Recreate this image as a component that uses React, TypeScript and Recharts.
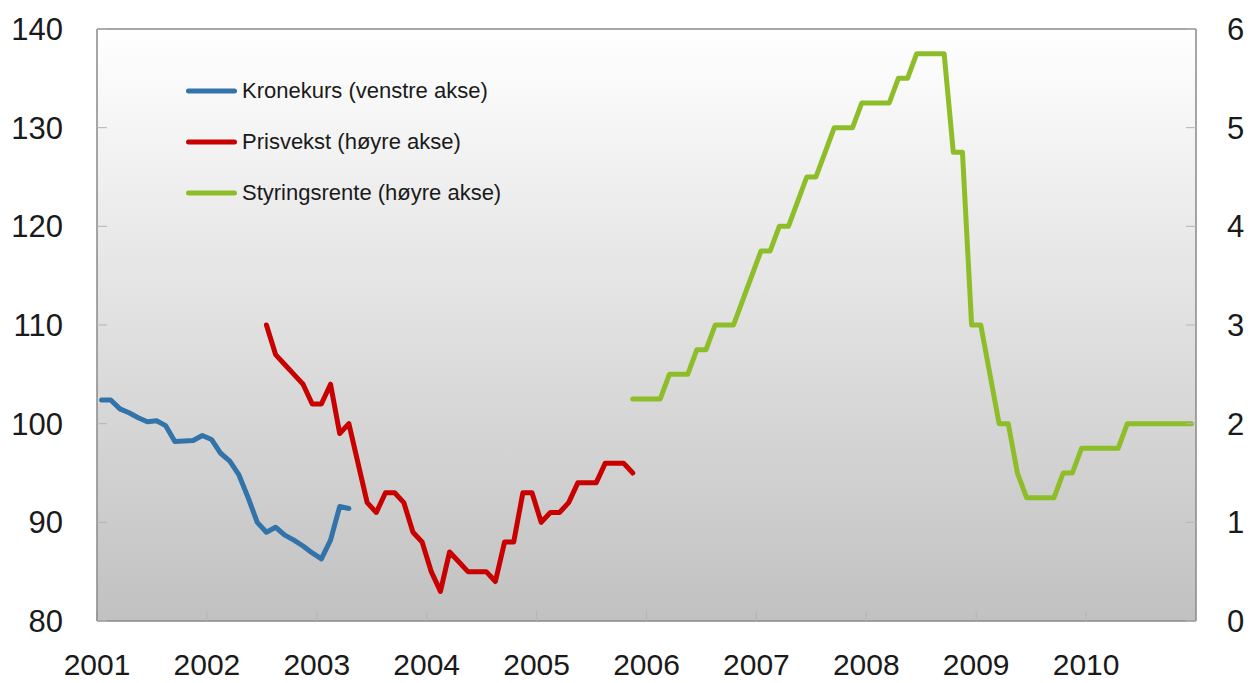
import React from 'react';
import { LineChart, Line, XAxis, YAxis, ReferenceArea, ReferenceLine, Legend } from 'recharts';

// ---- Data ----
const START_YEAR = 2001;
const MONTH_COUNT = 120;
const yearTicks = [2001, 2002, 2003, 2004, 2005, 2006, 2007, 2008, 2009, 2010];
const leftTicks = [80, 90, 100, 110, 120, 130, 140];
const rightTicks = [0, 1, 2, 3, 4, 5, 6];

// Kronekurs (left axis), monthly from Jan 2001
const kronekursStartIndex = 0;
const kronekurs = [
  102.4, 102.4, 101.5, 101.1, 100.6, 100.2, 100.3, 99.8, 98.2, 98.25, 98.3, 98.8,
  98.4, 97.0, 96.2, 94.8, 92.5, 90.0, 89.0, 89.5, 88.7, 88.2, 87.6, 86.9,
  86.3, 88.2, 91.6, 91.4,
];

// Prisvekst (right axis), monthly from Jul 2002
const prisvekstStartIndex = 18;
const prisvekst = [
  3.0, 2.7, 2.6, 2.5, 2.4, 2.2,
  2.2, 2.4, 1.9, 2.0, 1.6, 1.2, 1.1, 1.3, 1.3, 1.2, 0.9, 0.8,
  0.5, 0.3, 0.7, 0.6, 0.5, 0.5, 0.5, 0.4, 0.8, 0.8, 1.3, 1.3,
  1.0, 1.1, 1.1, 1.2, 1.4, 1.4, 1.4, 1.6, 1.6, 1.6, 1.5,
];

// Styringsrente (right axis), monthly from Nov 2005
const styringsrenteStartIndex = 58;
const styringsrente = [
  2.25, 2.25,
  2.25, 2.25, 2.5, 2.5, 2.5, 2.75, 2.75, 3.0, 3.0, 3.0, 3.25, 3.5,
  3.75, 3.75, 4.0, 4.0, 4.25, 4.5, 4.5, 4.75, 5.0, 5.0, 5.0, 5.25,
  5.25, 5.25, 5.25, 5.5, 5.5, 5.75, 5.75, 5.75, 5.75, 4.75, 4.75, 3.0,
  3.0, 2.5, 2.0, 2.0, 1.5, 1.25, 1.25, 1.25, 1.25, 1.5, 1.5, 1.75,
  1.75, 1.75, 1.75, 1.75, 2.0, 2.0, 2.0, 2.0, 2.0, 2.0, 2.0, 2.0,
];

const seriesNames = {
  kronekurs: 'Kronekurs (venstre akse)',
  prisvekst: 'Prisvekst (høyre akse)',
  styringsrente: 'Styringsrente (høyre akse)',
};

const pick = (arr: number[], start: number, i: number) => {
  const k = i - start;
  return k >= 0 && k < arr.length ? arr[k] : null;
};

const data = Array.from({ length: MONTH_COUNT }, (_, i) => ({
  t: START_YEAR + (i + 0.5) / 12,
  kronekurs: pick(kronekurs, kronekursStartIndex, i),
  prisvekst: pick(prisvekst, prisvekstStartIndex, i),
  styringsrente: pick(styringsrente, styringsrenteStartIndex, i),
}));

// ---- Styles ----
const FONT = '"Liberation Sans", Arial, sans-serif';
const TEXT = '#1a1a1a';
const AXIS = '#888888';
const TICK = '#b5b5b5';

const renderLegend = (props: any) => {
  const { payload } = props;
  return (
    <div style={{ fontFamily: FONT }}>
      {(payload || []).map((entry: any, idx: number) => (
        <div key={idx} style={{ display: 'flex', alignItems: 'center', height: 51 }}>
          <svg width={58} height={10} style={{ display: 'block' }}>
            <line x1={4.5} y1={5} x2={50.5} y2={5} stroke={entry.color} strokeWidth={5} strokeLinecap="round" />
          </svg>
          <span style={{ fontSize: 22, color: TEXT, whiteSpace: 'nowrap', lineHeight: '22px' }}>{entry.value}</span>
        </div>
      ))}
    </div>
  );
};

export default function App() {
  return (
    <div style={{ width: 1240, height: 667, fontFamily: FONT }}>
      <style>{'.recharts-surface{overflow:visible}'}</style>
      <LineChart width={1240} height={667} data={data} margin={{ top: 21, right: 0, bottom: 0, left: 0 }}>
        <defs>
          <linearGradient id="bgGrad" x1="0" y1="0" x2="0" y2="1">
            <stop offset="0%" stopColor="#ffffff" />
            <stop offset="100%" stopColor="#c1c1c1" />
          </linearGradient>
        </defs>
        <XAxis
          dataKey="t"
          type="number"
          domain={[2001, 2011]}
          ticks={yearTicks}
          allowDataOverflow
          height={54}
          tickFormatter={(v: number) => String(v)}
          tick={{ fontSize: 30, fill: TEXT, fontFamily: FONT }}
          tickSize={-10}
          tickMargin={43}
          tickLine={{ stroke: TICK }}
          axisLine={{ stroke: AXIS, strokeWidth: 1.5 }}
          interval={0}
        />
        <YAxis
          yAxisId="left"
          orientation="left"
          domain={[80, 140]}
          ticks={leftTicks}
          allowDataOverflow
          width={89}
          tick={{ fontSize: 31, fill: TEXT, fontFamily: FONT }}
          tickSize={-10}
          tickMargin={44}
          tickLine={{ stroke: TICK }}
          axisLine={{ stroke: AXIS, strokeWidth: 1.5 }}
          interval={0}
        />
        <YAxis
          yAxisId="right"
          orientation="right"
          domain={[0, 6]}
          ticks={rightTicks}
          allowDataOverflow
          width={52}
          tick={{ fontSize: 31, fill: TEXT, fontFamily: FONT, textAnchor: 'start' }}
          tickSize={-10}
          tickMargin={41}
          tickLine={{ stroke: TICK }}
          axisLine={{ stroke: AXIS, strokeWidth: 1.5 }}
          interval={0}
        />
        <ReferenceArea
          yAxisId="left"
          x1={2001}
          x2={2011}
          y1={80}
          y2={140}
          fill="url(#bgGrad)"
          fillOpacity={1}
          stroke="none"
          ifOverflow="visible"
        />
        <ReferenceLine yAxisId="left" y={140} stroke={AXIS} strokeWidth={1.5} />
        <Legend
          layout="vertical"
          align="center"
          verticalAlign="middle"
          content={renderLegend}
          wrapperStyle={{ left: 176, top: 57.5, width: 360 }}
        />
        <Line
          yAxisId="left"
          type="linear"
          dataKey="kronekurs"
          name={seriesNames.kronekurs}
          stroke="#3273aa"
          strokeWidth={5}
          strokeLinecap="round"
          strokeLinejoin="round"
          dot={false}
          activeDot={false}
          legendType="line"
          isAnimationActive={false}
        />
        <Line
          yAxisId="right"
          type="linear"
          dataKey="prisvekst"
          name={seriesNames.prisvekst}
          stroke="#c80000"
          strokeWidth={5}
          strokeLinecap="round"
          strokeLinejoin="round"
          dot={false}
          activeDot={false}
          legendType="line"
          isAnimationActive={false}
        />
        <Line
          yAxisId="right"
          type="linear"
          dataKey="styringsrente"
          name={seriesNames.styringsrente}
          stroke="#8dbe2a"
          strokeWidth={5}
          strokeLinecap="round"
          strokeLinejoin="round"
          dot={false}
          activeDot={false}
          legendType="line"
          isAnimationActive={false}
        />
      </LineChart>
    </div>
  );
}
